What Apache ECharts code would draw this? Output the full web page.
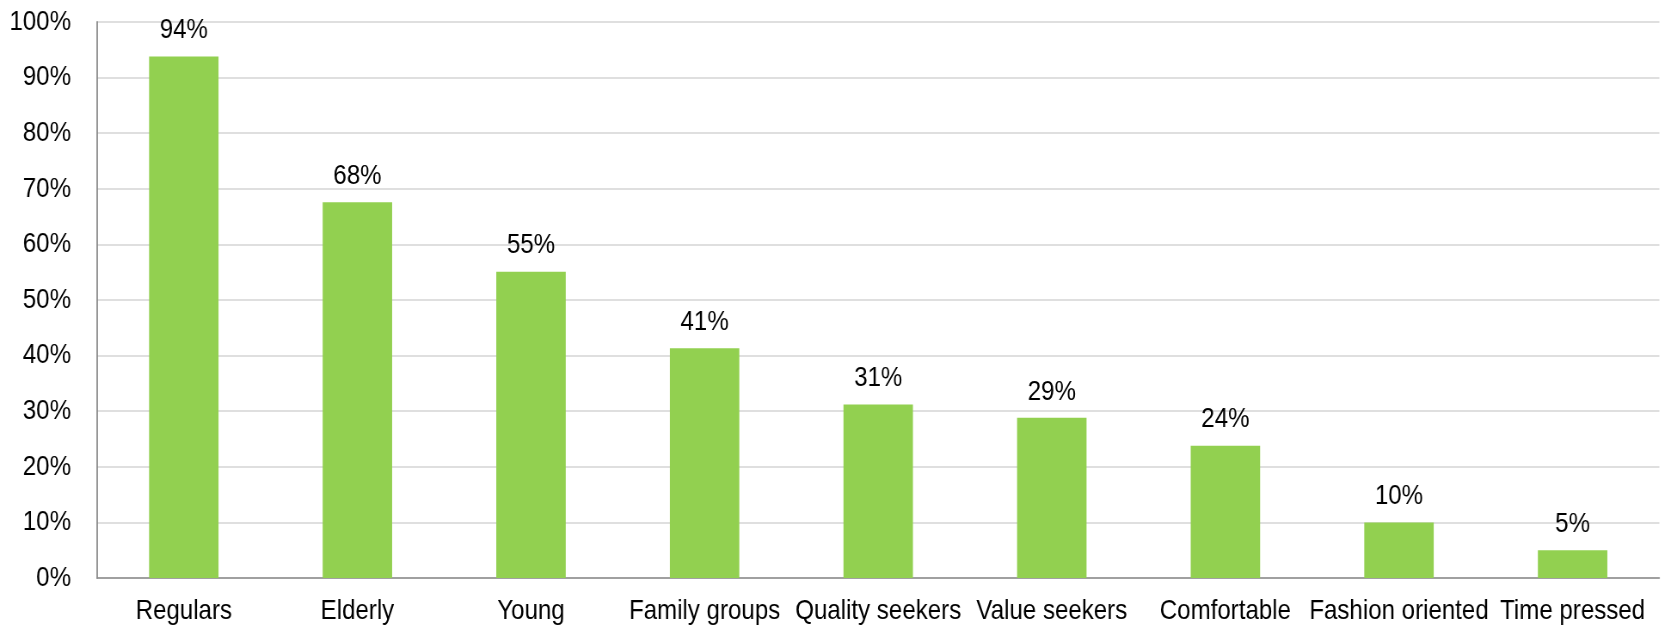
<!DOCTYPE html>
<html>
<head>
<meta charset="utf-8">
<script src="https://cdn.jsdelivr.net/npm/echarts@6/dist/echarts.min.js"></script>
<style>
  html, body { margin: 0; padding: 0; background: #fff; overflow: hidden; }
  #wrap { width: 1662px; height: 629px; overflow: hidden; }
  /* no narrow font installed: draw wider and squeeze horizontally to mimic Arial Narrow */
  #chart { width: 1933px; height: 629px; transform: scaleX(0.86); transform-origin: 0 0; }
</style>
</head>
<body>
<div id="wrap"><div id="chart"></div></div>
<script>
// categories and shares (percent)
var categories = ['Regulars', 'Elderly', 'Young', 'Family groups', 'Quality seekers',
                  'Value seekers', 'Comfortable', 'Fashion oriented', 'Time pressed'];
var shares = [93.8, 67.6, 55.1, 41.3, 31.2, 28.8, 23.8, 10.0, 5.0];
var yTicks = { min: 0, max: 100, step: 10 };

var squeeze = 0.86;
var font = 'Liberation Sans, Arial, sans-serif';

var chart = echarts.init(document.getElementById('chart'));
chart.setOption({
  animation: false,
  grid: { left: 97 / squeeze, right: 3 / squeeze, top: 22, bottom: 51, containLabel: false },
  xAxis: {
    type: 'category',
    data: categories,
    axisTick: { show: false },
    axisLine: { lineStyle: { color: '#8c8c8c', width: 1.5 } },
    axisLabel: { color: '#000', fontSize: 28, fontFamily: font, margin: 19, interval: 0 }
  },
  yAxis: {
    type: 'value',
    min: yTicks.min,
    max: yTicks.max,
    interval: yTicks.step,
    axisLine: { show: true, lineStyle: { color: '#8c8c8c', width: 1.8 } },
    axisTick: { show: false },
    splitLine: { lineStyle: { color: '#d4d4d4', width: 1.5 } },
    axisLabel: {
      color: '#000', fontSize: 28, fontFamily: font, margin: 26 / squeeze,
      formatter: function (v) { return v + '%'; }
    }
  },
  series: [{
    type: 'bar',
    data: shares,
    barWidth: '40%',
    itemStyle: { color: '#92d050' },
    label: {
      show: true,
      position: 'top',
      distance: 12,
      color: '#000',
      fontSize: 28,
      fontFamily: font,
      formatter: function (p) { return Math.round(p.value) + '%'; }
    }
  }]
});
</script>
</body>
</html>
